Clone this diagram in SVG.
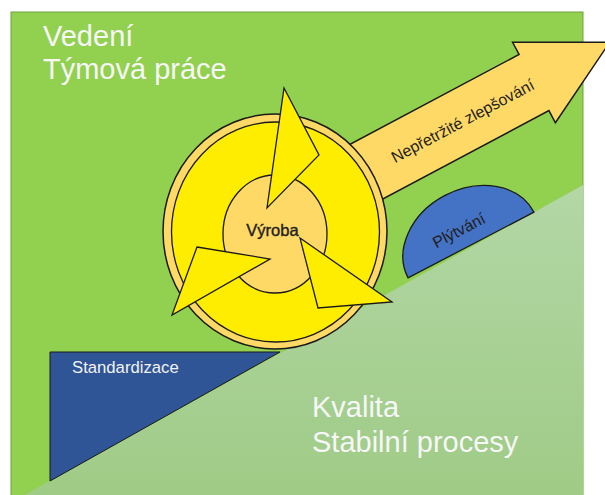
<svg xmlns="http://www.w3.org/2000/svg" width="605" height="495" viewBox="0 0 605 495">
  <defs>
    <linearGradient id="lowGreen" x1="0" y1="185" x2="0" y2="495" gradientUnits="userSpaceOnUse">
      <stop offset="0" stop-color="#B3D7A6"/>
      <stop offset="1" stop-color="#9FCB86"/>
    </linearGradient>
  </defs>
  <style>
    text { font-family: "Liberation Sans", Arial, sans-serif; }
    .big { font-size: 29px; fill: #F7F7F7; }
    .gold { fill: #FFD966; stroke: #1A1A1A; stroke-width: 1.5; }
    .sun { fill: #FFED00; stroke: #1A1A1A; stroke-width: 1.3; stroke-linejoin: miter; }
    .dark { fill: #1F1F1F; }
  </style>

  <rect width="605" height="495" fill="#FFFFFF"/>

  <!-- background fields -->
  <g id="background">
    <rect x="11" y="12" width="572" height="490" fill="#92D050" stroke="#6FA43A" stroke-width="1"/>
    <polygon points="583,185 583,502 12,502" fill="url(#lowGreen)"/>
  </g>

  <g id="vedeni">
    <text class="big" x="43" y="46">Vedení</text>
    <text class="big" x="43" y="79">Týmová práce</text>
  </g>

  <g id="kvalita">
    <text class="big" x="312" y="417">Kvalita</text>
    <text class="big" x="312" y="452">Stabilní procesy</text>
  </g>

  <g id="standardizace">
    <polygon points="50,352 280,352 50,481" fill="#2F5597" stroke="#1A1A1A" stroke-width="1"/>
    <text x="72" y="372.5" font-size="16.7" fill="#F2F2F2">Standardizace</text>
  </g>

  <g id="plytvani" transform="translate(471 245) rotate(-27.6)">
    <path d="M -71 0 A 71 56 0 0 1 71 0 Z" fill="#4472C4" stroke="#1A1A1A" stroke-width="1.3"/>
    <text x="-4" y="-13" font-size="16" text-anchor="middle" class="dark">Plýtvání</text>
  </g>

  <g id="zlepsovani" transform="translate(534 82.5) rotate(-28)">
    <path class="gold" d="M -260 -31.8 L 0 -31.8 L 0 -45.6 L 85.8 0 L 0 45.6 L 0 31.8 L -260 31.8 Z"/>
    <text x="-81" y="6" font-size="16" text-anchor="middle" class="dark">Nepřetržité zlepšování</text>
  </g>

  <g id="vyroba">
    <ellipse class="gold" cx="275" cy="231.5" rx="112" ry="117.5"/>
    <ellipse class="sun" cx="275.5" cy="232" rx="104" ry="110"/>
    <ellipse class="gold" cx="275" cy="234" rx="52" ry="59" style="stroke-width:1.3"/>
  </g>

  <!-- cycle arrows around the production hub -->
  <g id="connectors">
    <polygon class="sun" points="284,88 319,155 267,208"/>
    <polygon class="sun" points="197,247 270,259 172,315"/>
    <polygon class="sun" points="300,238 392,302 318,308"/>
  </g>

  <g id="vyroba-label">
    <text x="272.5" y="236" font-size="16.5" text-anchor="middle" class="dark" stroke="#1F1F1F" stroke-width="0.4">Výroba</text>
  </g>
</svg>
